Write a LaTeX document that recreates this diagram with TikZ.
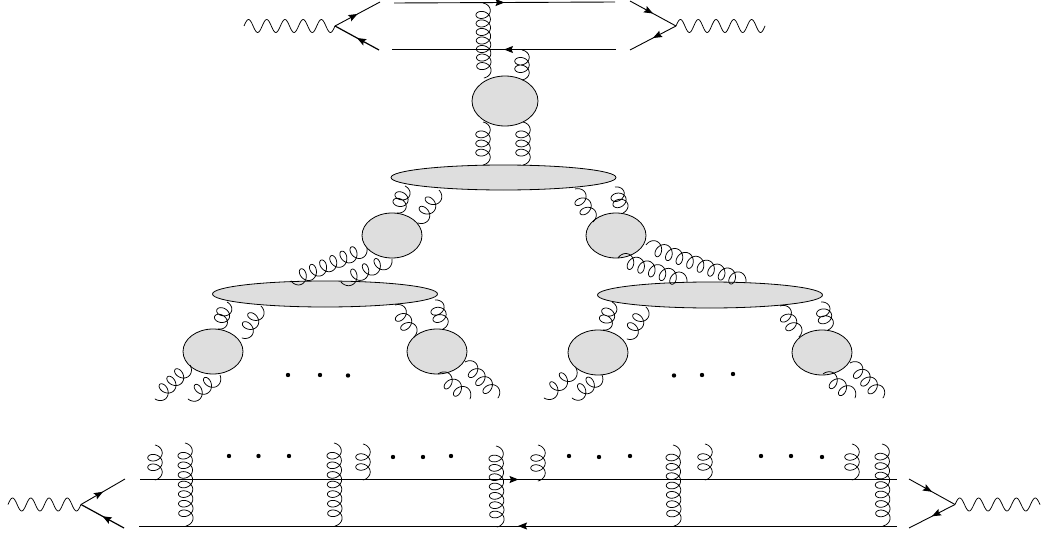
\documentclass[tikz,border=0pt]{standalone}
\usetikzlibrary{shapes.geometric,arrows.meta,decorations.markings}
\definecolor{blobgray}{HTML}{DEDEDE}
\newcommand\glBa{5.5}
\newcommand\glBl{7.2}
% gluon: name, x1,y1, x2,y2, number of loops; loops lie right of the travel direction
\newcommand\gl[6]{%
  \coordinate (#1a) at (#2,#3);
  \coordinate (#1b) at (#4,#5);
  \pgfmathsetmacro\glL{veclen(#4-#2,#5-#3)}%
  \pgfmathsetmacro\glUx{(#4-#2)/\glL}%
  \pgfmathsetmacro\glUy{(#5-#3)/\glL}%
  \pgfmathsetmacro\glT{360*#6}%
  \pgfmathsetmacro\glEnd{\glT+90}%
  \pgfmathsetmacro\glV{(\glL-2*\glBa)/(\glT+180)}%
  \pgfmathtruncatemacro\glN{(#6+0.5)*30+1}%
  \draw[gluonline] (#1a) -- plot[domain=-90:\glEnd,samples=\glN,variable=\t]
   ({#2+\glUx*(\glBa+\glV*(\t+90)+\glBa*sin(\t))+\glUy*\glBl*cos(\t)},
    {#3+\glUy*(\glBa+\glV*(\t+90)+\glBa*sin(\t))-\glUx*\glBl*cos(\t)}) -- (#1b);
}
% photon: name, x1, x2, y, periods, amplitude
\newcommand\phot[6]{%
  \coordinate (#1a) at (#2,#4);
  \coordinate (#1b) at (#3,#4);
  \pgfmathsetmacro\phEnd{360*#5}%
  \pgfmathsetmacro\phV{(#3-#2)/\phEnd}%
  \pgfmathtruncatemacro\phN{#5*24+1}%
  \draw[photonline] (#1a) -- plot[domain=0:\phEnd,samples=\phN,variable=\t]
   ({#2+\phV*\t},{#4-#6*sin(\t)}) -- (#1b);
}
\tikzset{
  gluonline/.style={line width=0.75pt,line join=round},
  photonline/.style={line width=0.75pt,line join=round},
  blob/.style={draw=black,line width=0.8pt,fill=blobgray,ellipse,inner sep=0pt},
  quark/.style={line width=0.9pt},
  thick quark/.style={line width=1.2pt},
  arrowmid/.style={postaction={decorate},decoration={markings,
    mark=at position 0.5 with {\arrow{Stealth[length=9pt,width=7pt,inset=1.5pt]}}}},
  dotm/.style={circle,fill=black,inner sep=0pt,minimum size=4.4pt},
}
\begin{document}
\begin{tikzpicture}[x=1pt,y=-1pt]
\useasboundingbox (0,0) rectangle (1042,535);
% blobs
\node[blob,minimum width=66pt,minimum height=50pt] (b0) at (505,101) {};
\node[blob,minimum width=225pt,minimum height=25pt] (e0) at (503.5,177.5) {};
\node[blob,minimum width=60pt,minimum height=45pt] (bL) at (392,235.5) {};
\node[blob,minimum width=60pt,minimum height=45pt] (bR) at (616,235.5) {};
\node[blob,minimum width=225pt,minimum height=26pt] (eL) at (325,294) {};
\node[blob,minimum width=225pt,minimum height=26pt] (eR) at (710,295) {};
\node[blob,minimum width=60pt,minimum height=45pt] (bLL) at (213,351.5) {};
\node[blob,minimum width=60pt,minimum height=45pt] (bLR) at (437,351.5) {};
\node[blob,minimum width=60pt,minimum height=45pt] (bRL) at (598,352.5) {};
\node[blob,minimum width=60pt,minimum height=45pt] (bRR) at (822,352.5) {};
% top ladder gluons
\gl{t1}{483}{3}{484}{78}{7}
\gl{t2}{522}{50}{522}{80}{2}
\gl{t3}{483}{122}{483}{165}{3}
\gl{t4}{523}{122}{523}{165}{3}
% left branch
\gl{a}{405}{186}{397}{213}{2}
\gl{b}{439}{190}{418}{223}{2}
\gl{c}{367}{248}{291}{281}{6}
\gl{d}{392}{259}{341}{282}{3}
\gl{e}{227}{302}{218}{329}{2}
\gl{f}{261}{306}{242}{338}{2}
\gl{g}{395}{305}{414}{337}{2}
\gl{h}{435}{300}{443}{329}{2}
\gl{i}{190}{365}{155}{399}{3}
\gl{j}{220}{375}{188}{399}{2}
\gl{k}{465}{362}{498}{398}{3}
\gl{l}{438}{374}{470}{399}{2}
% right branch
\gl{m}{575}{189}{593}{222}{2}
\gl{n}{615}{187}{623}{213}{2}
\gl{o}{646}{245}{746}{282}{8}
\gl{p}{618}{258}{687}{282}{5}
\gl{q}{612}{302}{603}{330}{2}
\gl{r}{646}{307}{627}{339}{2}
\gl{s}{780}{306}{799}{337}{2}
\gl{u}{821}{302}{828}{330}{2}
\gl{v}{576}{368}{544}{398}{2}
\gl{w}{602}{375}{572}{398}{2}
\gl{x}{850}{363}{883}{398}{3}
\gl{y}{823}{374}{855}{398}{2}
% bottom ladder gluons
\gl{L1}{185}{443}{186}{526}{7}
\gl{L2}{334}{443}{335}{526}{7}
\gl{L3}{496}{446}{497}{527}{7}
\gl{L4}{673}{445}{674}{526}{7}
\gl{L5}{882}{444}{883}{526}{7}
\gl{S1}{155}{445}{155}{480}{2}
\gl{S2}{363}{444}{363}{480}{2}
\gl{S3}{538}{445}{538}{481}{2}
\gl{S4}{705}{444}{705}{480}{2}
\gl{S5}{852}{444}{852}{480}{2}
% quark lines, top
\coordinate (q1a) at (394,3); \coordinate (q1b) at (615,2);
\coordinate (q2a) at (616,49.5); \coordinate (q2b) at (392,49.5);
\draw[quark,arrowmid] (q1a) -- (q1b);
\draw[quark,arrowmid] (q2a) -- (q2b);
% top left photon vertex
\phot{pa}{244}{335}{26}{5}{6.5}
\coordinate (fa) at (380,2); \coordinate (fb) at (379,50);
\draw[quark,arrowmid] (pab) -- (fa);
\draw[thick quark,arrowmid] (fb) -- (pab);
% top right photon vertex
\phot{pb}{676}{765}{26}{5}{6.5}
\coordinate (fc) at (630,1); \coordinate (fd) at (630,50);
\draw[quark,arrowmid] (fc) -- (pba);
\draw[quark,arrowmid] (pba) -- (fd);
% quark lines, bottom
\coordinate (q3a) at (140,479.5); \coordinate (q3b) at (897,479.5);
\coordinate (q4a) at (897,526); \coordinate (q4b) at (139,526);
\draw[quark,arrowmid] (q3a) -- (q3b);
\draw[quark,arrowmid] (q4a) -- (q4b);
% bottom left photon vertex
\phot{pc}{8}{81}{504.5}{4}{6.5}
\coordinate (fe) at (125,479); \coordinate (ff) at (124,528);
\draw[quark,arrowmid] (pcb) -- (fe);
\draw[thick quark,arrowmid] (ff) -- (pcb);
% bottom right photon vertex
\phot{pd}{955}{1040}{504.5}{4.5}{6.5}
\coordinate (fg) at (909,479); \coordinate (fh) at (909,528);
\draw[quark,arrowmid] (fg) -- (pda);
\draw[quark,arrowmid] (pda) -- (fh);
% ellipsis dots
\foreach \dx/\dy [count=\i] in {288/375,320/375,348/375.5,674/375.5,702/375,733/374,
  229/456,258.5/456,289/456,393/457,423/457,451/456,569/456,599/457,630/456,761/456,791/456,822/457}
  { \node[dotm] (dot\i) at (\dx,\dy) {}; }
\end{tikzpicture}
\end{document}
